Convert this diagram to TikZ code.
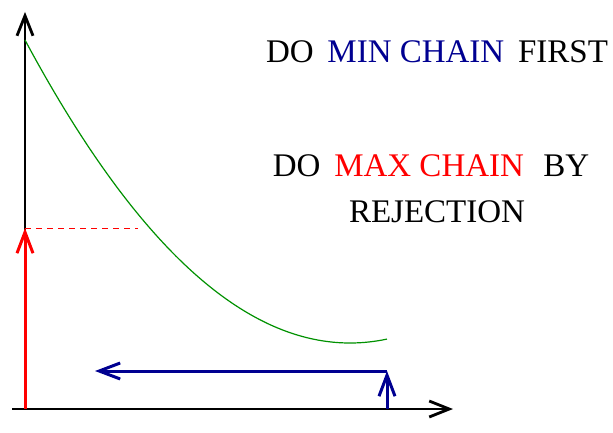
\documentclass[tikz,border=0pt]{standalone}
\usepackage{fontspec}
\setmainfont{Liberation Serif}
\usetikzlibrary{arrows.meta}
\definecolor{navyc}{RGB}{0,0,145}
\definecolor{greenc}{RGB}{0,145,0}
\definecolor{redc}{RGB}{255,0,0}
\tikzset{
  axis/.style={line width=1.2pt, black, -{Straight Barb[length=20pt,width=16pt,line width=2.8pt]}},
  bigarrow/.style={line width=3pt, -{Straight Barb[length=21pt,width=16pt,line width=3pt]}},
  lbl/.style={font=\fontsize{33}{40}\selectfont, inner sep=0pt, anchor=base}
}
\begin{document}
\begin{tikzpicture}[x=1pt,y=-1pt]
\useasboundingbox (0,0) rectangle (613,433);
% coordinates
\coordinate (o) at (25,409);
\coordinate (ytop) at (25,12);
\coordinate (xl) at (12,409);
\coordinate (xr) at (453,409);
\coordinate (rtip) at (25,228);
\coordinate (dend) at (138,228);
\coordinate (bstart) at (387,409);
\coordinate (bcorner) at (387,371);
\coordinate (bleft) at (95,371);
% axes
\draw[axis] (o) -- (ytop);
\draw[axis] (xl) -- (xr);
% green curve
\draw[greenc, line width=1.2pt] plot[domain=25:387, samples=80, smooth] (\x, {343 - 303*((\x-350)/325)^2} );
% red
\draw[redc, line width=1pt, dash pattern=on 6pt off 5pt] (rtip) -- (dend);
\draw[bigarrow, redc] (o) -- (rtip);
% blue
\draw[bigarrow, navyc] (bcorner) -- (bleft);
\draw[bigarrow, navyc] (bstart) -- (bcorner);
% texts
\node[lbl] (t1) at (437,63) {DO \,{\color{navyc}MIN CHAIN}\, FIRST};
\node[lbl] (t2) at (431,176) {DO \,{\color{redc}MAX CHAIN}\,\, BY};
\node[lbl] (t3) at (437,222) {REJECTION};
\end{tikzpicture}
\end{document}
